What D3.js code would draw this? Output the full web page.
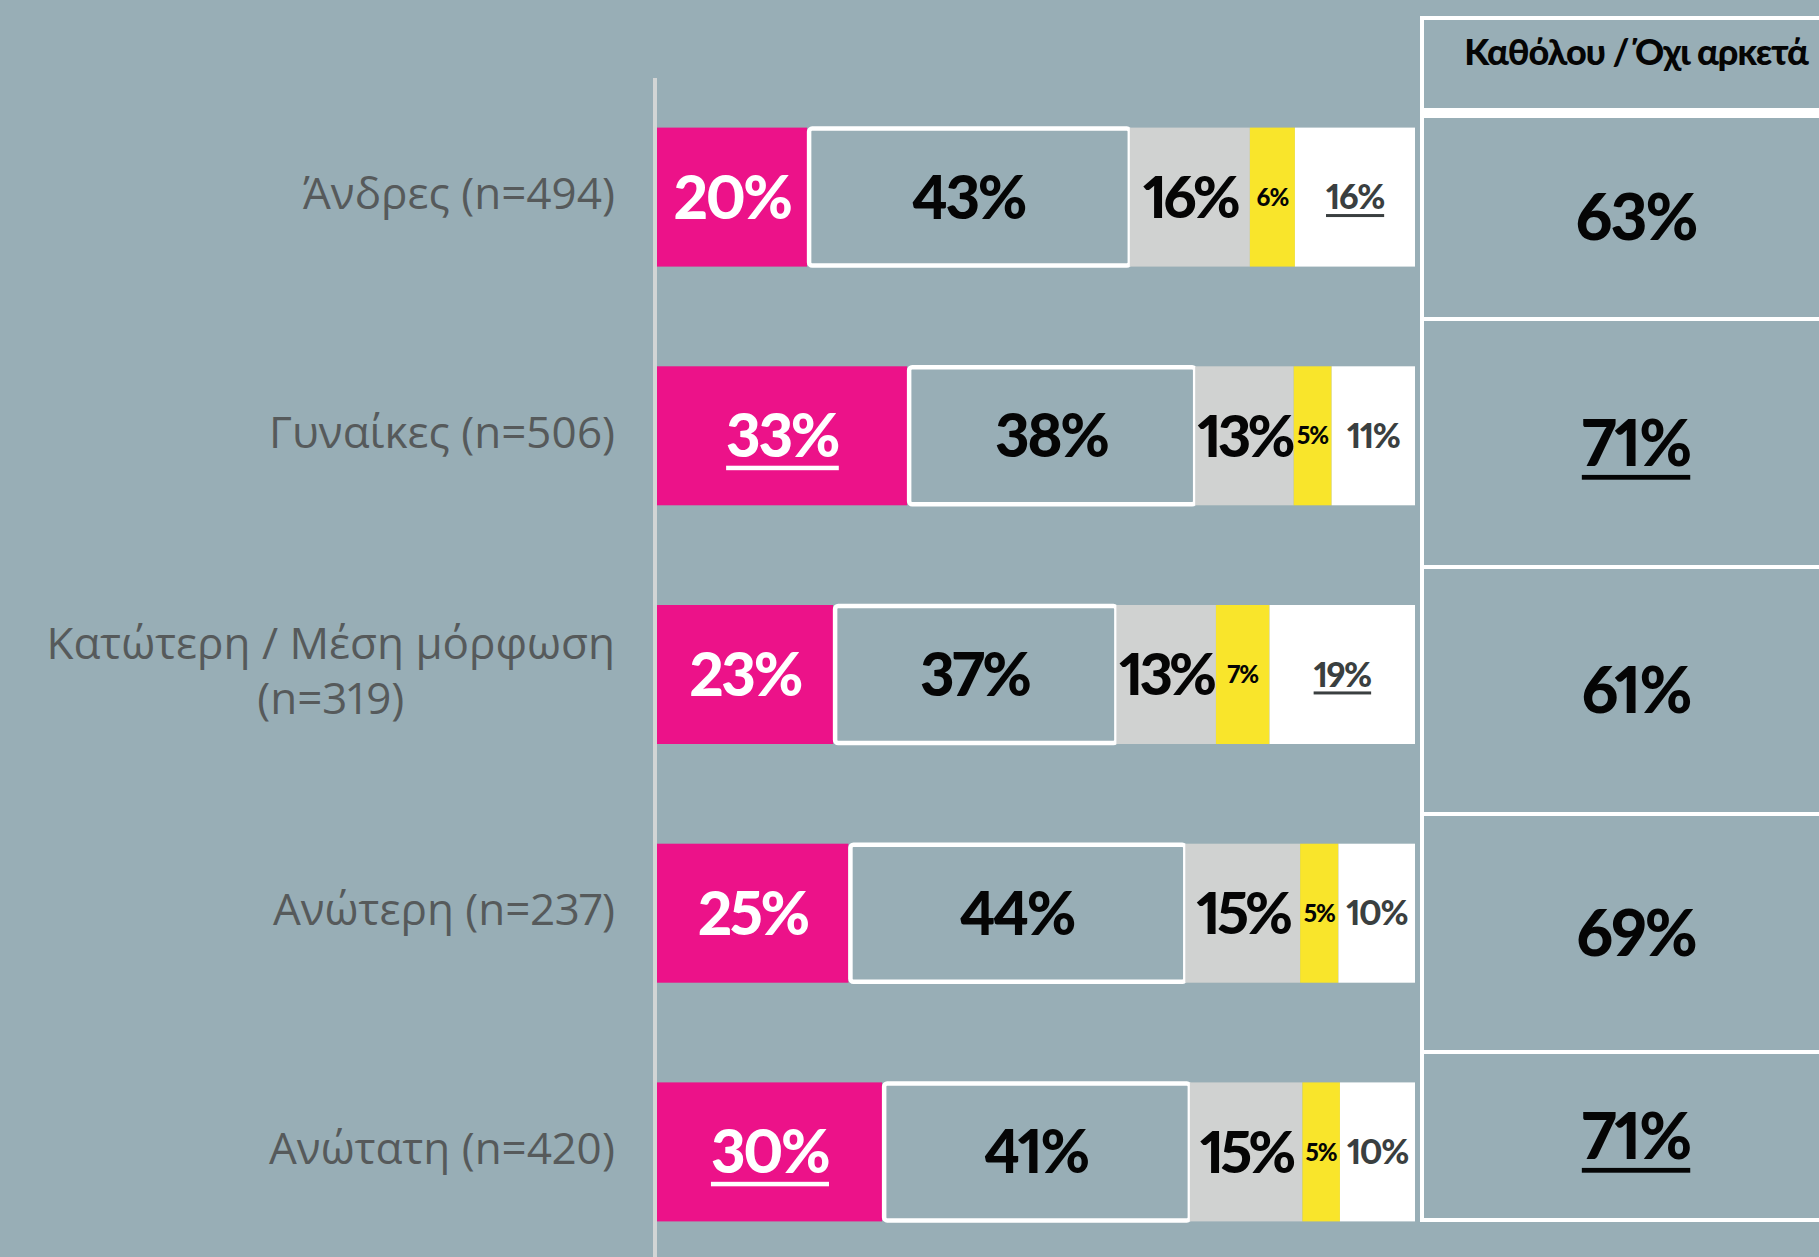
<!DOCTYPE html>
<html>
<head>
<meta charset="utf-8">
<script src="https://cdn.jsdelivr.net/npm/d3@7"></script>
<style>
  html, body { margin: 0; padding: 0; background: #98aeb6; }
  svg { display: block; }
  text { font-variant-numeric: proportional-nums; }
</style>
</head>
<body>
<svg id="chart" width="1819" height="1257"></svg>
<script>
// ---------------- DATA ----------------
const categories = [
  "Άνδρες (n=494)",
  "Γυναίκες (n=506)",
  "Κατώτερη / Μέση μόρφωση\n(n=319)",
  "Ανώτερη (n=237)",
  "Ανώτατη (n=420)"
];
const seriesKeys = ["s1", "s2", "s3", "s4", "s5"];
const s1Values = [20, 33, 23, 25, 30];   // pink
const s2Values = [43, 38, 37, 44, 41];   // outlined
const s3Values = [16, 13, 13, 15, 15];   // light grey
const s4Values = [6, 5, 7, 5, 5];        // yellow
const s5Values = [16, 11, 19, 10, 10];   // white
const s1Underlined = [false, true, false, false, true];
const s5Underlined = [true, false, true, false, false];

const tableHeader = "Καθόλου / Όχι αρκετά";
const tableValues = [63, 71, 61, 69, 71];
const tableUnderlined = [false, true, false, false, true];

// ---------------- LAYOUT / STYLE ----------------
const W = 1819, H = 1257;
const bg = "#98aeb6";
const barLeft = 657, barRight = 1415;
const barTop = 127.6, barBottom = 1221.4;
const labelRight = 615;
const tableX = 1422, tableCenterX = 1636;
const tableRowEdges = [116, 319, 567, 814, 1052, 1220];

const colors = { s1: "#ec1289", s2: bg, s3: "#d0d2d1", s4: "#f9e52b", s5: "#ffffff" };
const labelStyle = {
  s1: { fill: "#ffffff", size: 60 },
  s2: { fill: "#050505", size: 60 },
  s3: { fill: "#050505", size: 58 },
  s4: { fill: "#050505", size: 24 },
  s5: { fill: "#3a3f40", size: 34 }
};
const boldFont = "Lato, 'Open Sans', sans-serif";
const capRatio = 0.717;

const rows = categories.map((c, i) => ({
  cat: c,
  s1: s1Values[i], s2: s2Values[i], s3: s3Values[i], s4: s4Values[i], s5: s5Values[i],
  u1: s1Underlined[i], u5: s5Underlined[i]
}));

const svg = d3.select("#chart");
svg.append("rect").attr("width", W).attr("height", H).attr("fill", bg);

const y = d3.scaleBand().domain(categories).range([barTop, barBottom]).paddingInner(0.4177).paddingOuter(0);
const x = d3.scaleLinear().domain([0, 1]).range([barLeft, barRight]);

const stacked = d3.stack().keys(seriesKeys).offset(d3.stackOffsetExpand)(rows);

// axis line
svg.append("line")
  .attr("x1", 655).attr("x2", 655).attr("y1", 78).attr("y2", H)
  .attr("stroke", "#d2d5d5").attr("stroke-width", 4);

// segments
const layers = svg.append("g").selectAll("g").data(stacked).join("g");
layers.each(function(layer) {
  const key = layer.key;
  const g = d3.select(this);
  layer.forEach((seg, i) => {
    const x0 = x(seg[0]), x1 = x(seg[1]);
    const yt = y(categories[i]), h = y.bandwidth();
    if (key === "s2") {
      g.append("rect")
        .attr("x", x0 + 2).attr("y", yt + 1).attr("width", x1 - x0 - 2).attr("height", h - 2)
        .attr("rx", 3)
        .attr("fill", colors.s2).attr("stroke", "#ffffff").attr("stroke-width", 4.5);
    } else {
      g.append("rect")
        .attr("x", x0).attr("y", yt).attr("width", x1 - x0).attr("height", h)
        .attr("fill", colors[key]);
    }
  });
});

function addLabel(parent, cx, cy, text, size, fill, underline, ls) {
  const baseline = cy + capRatio * size / 2;
  const t = parent.append("text")
    .attr("x", cx).attr("y", baseline)
    .attr("text-anchor", "middle")
    .attr("font-family", boldFont).attr("font-weight", 900)
    .attr("font-size", size).attr("fill", fill)
    .attr("letter-spacing", ls === undefined ? -size * 0.04 : ls)
    .text(text);
  if (underline) {
    const bb = t.node().getBBox();
    parent.append("rect")
      .attr("x", bb.x).attr("width", bb.width)
      .attr("y", baseline + 0.14 * size).attr("height", Math.max(3, 0.075 * size))
      .attr("fill", fill);
  }
}

// segment labels
const labelG = svg.append("g");
stacked.forEach(layer => {
  const key = layer.key;
  const st = labelStyle[key];
  layer.forEach((seg, i) => {
    const cx = (x(seg[0]) + x(seg[1])) / 2;
    const cy = y(categories[i]) + y.bandwidth() / 2;
    const v = seg.data[key];
    const u = (key === "s1" && seg.data.u1) || (key === "s5" && seg.data.u5);
    addLabel(labelG, cx, cy, v + "%", st.size, st.fill, u, key === "s3" ? -4 : undefined);
  });
});

// category labels
const catG = svg.append("g");
const catFont = "'Open Sans', 'Noto Sans', sans-serif";
categories.forEach(c => {
  const lines = c.split("\n");
  const cy = y(c) + y.bandwidth() / 2;
  const fs = 44, lh = 55;
  const firstBase = cy + 12 - (lines.length - 1) * lh / 2;
  const t0 = catG.append("text")
    .attr("x", labelRight).attr("y", firstBase)
    .attr("text-anchor", "end")
    .attr("font-family", catFont)
    .attr("font-size", fs).attr("fill", "#565a5b")
    .text(lines[0]);
  if (lines.length > 1) {
    const len = t0.node().getComputedTextLength();
    const mid = labelRight - len / 2;
    t0.attr("x", mid).attr("text-anchor", "middle");
    lines.slice(1).forEach((ln, k) => {
      catG.append("text")
        .attr("x", mid).attr("y", firstBase + (k + 1) * lh)
        .attr("text-anchor", "middle")
        .attr("font-family", catFont)
        .attr("font-size", fs).attr("fill", "#565a5b")
        .text(ln);
    });
  }
});

// right table
const tg = svg.append("g");
tg.append("line").attr("x1", tableX).attr("x2", tableX).attr("y1", 16).attr("y2", 1222)
  .attr("stroke", "#fff").attr("stroke-width", 4);
tg.append("line").attr("x1", tableX).attr("x2", W).attr("y1", 18).attr("y2", 18)
  .attr("stroke", "#fff").attr("stroke-width", 4);
tg.append("line").attr("x1", tableX).attr("x2", W).attr("y1", 113).attr("y2", 113)
  .attr("stroke", "#fff").attr("stroke-width", 10);
tableRowEdges.slice(1).forEach(e => {
  tg.append("line").attr("x1", tableX).attr("x2", W).attr("y1", e).attr("y2", e)
    .attr("stroke", "#fff").attr("stroke-width", 4);
});
tg.append("text")
  .attr("x", tableCenterX).attr("y", 65)
  .attr("text-anchor", "middle")
  .attr("font-family", boldFont).attr("font-weight", 900)
  .attr("font-size", 36).attr("fill", "#050505")
  .attr("letter-spacing", -1)
  .text(tableHeader);
tableValues.forEach((v, i) => {
  const cy = (tableRowEdges[i] + tableRowEdges[i + 1]) / 2;
  addLabel(tg, tableCenterX, cy, v + "%", 64, "#050505", tableUnderlined[i], -2);
});
</script>
</body>
</html>
